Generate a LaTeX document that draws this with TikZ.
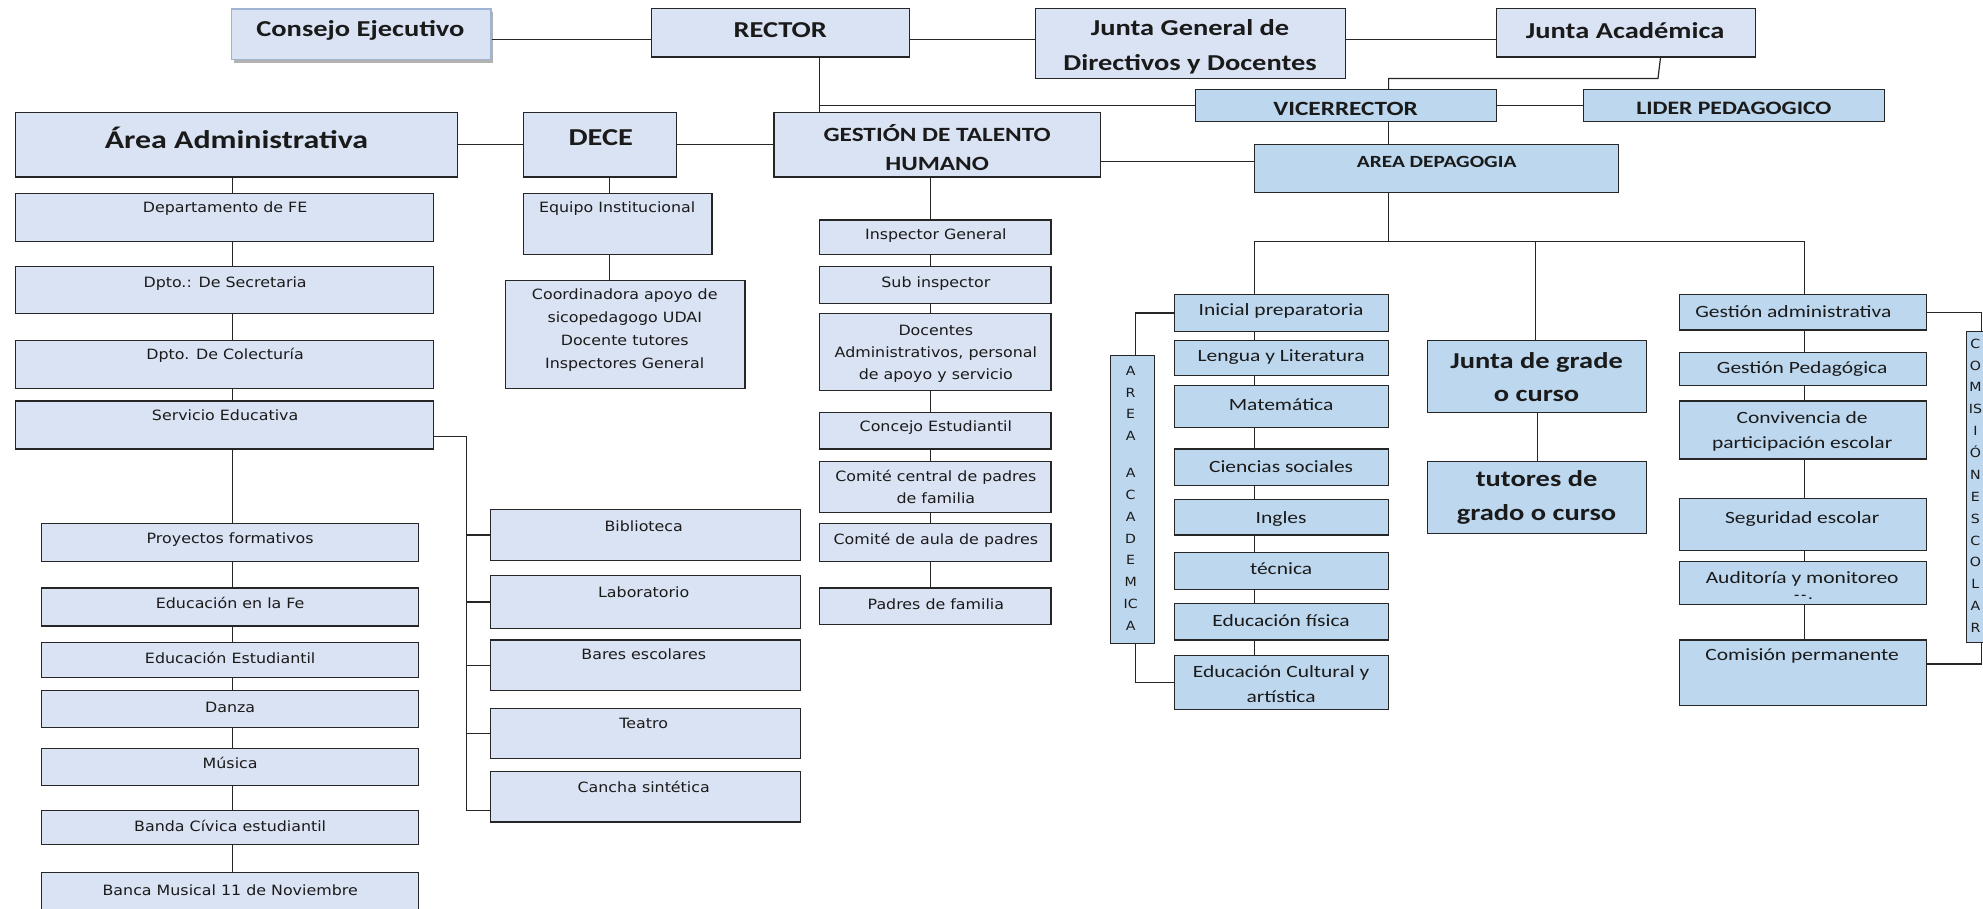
\documentclass[tikz,border=0pt]{standalone}
\usepackage{fontspec}
\newfontfamily\calfam[FakeStretch=1.25]{Carlito}
\newfontfamily\verfam[FakeStretch=1.12]{DejaVu Sans}
\usetikzlibrary{fit,shadows}
\definecolor{lboxc}{HTML}{DAE3F3}
\definecolor{bboxc}{HTML}{BDD7EE}
\definecolor{edgec}{HTML}{262626}
\definecolor{txtc}{HTML}{1A1A1A}
\definecolor{cedgec}{HTML}{9FB4D3}
\newcommand{\mkbox}[6]{\node[#6, fit={(#2,#3) (#4,#5)}] (#1) {};}
\tikzset{
  lb/.style={rectangle, draw=edgec, line width=0.95pt, fill=lboxc, inner sep=0pt},
  bb/.style={rectangle, draw=edgec, line width=0.95pt, fill=bboxc, inner sep=0pt},
  sb/.style={rectangle, draw=cedgec, line width=1.3pt, fill=lboxc, inner sep=0pt,
     drop shadow={shadow xshift=2pt, shadow yshift=-2.5pt, fill=black!50, opacity=0.6}},
  conn/.style={draw=edgec, line width=0.95pt},
  hd/.style={font=\calfam\bfseries\fontsize{18}{26}\selectfont, text=txtc, inner sep=0pt, align=center},
  sm/.style={font=\verfam\fontsize{11.2}{18}\selectfont, text=txtc, inner sep=0pt, align=center},
  cs/.style={font=\calfam\fontsize{13.6}{20}\selectfont, text=txtc, inner sep=0pt, align=center},
  vt/.style={font=\verfam\fontsize{10}{17.3}\selectfont, text=txtc, inner sep=0pt, align=center},
}
\begin{document}
\begin{tikzpicture}[x=1pt,y=-1pt]
\useasboundingbox (0,0) rectangle (1568,718);
\clip (0,0) rectangle (1568,718);
\fill[white] (0,0) rectangle (1568,718);

% ---------- top row ----------
\mkbox{cons}{183}{7}{388}{47}{sb}
\node[hd] (const) at (285,24) {Consejo Ejecutivo};
\mkbox{rector}{515}{7}{719}{45}{lb}
\node[hd] (rectort) at (617,24) {RECTOR};
\mkbox{jgen}{819}{7}{1064}{62}{lb}
\node[hd, font=\calfam\bfseries\fontsize{18}{27}\selectfont] (jgent) at (941,37) {Junta General de\\Directivos y Docentes};
\mkbox{jacad}{1183}{7}{1388}{45}{lb}
\node[hd] (jacadt) at (1285,24) {Junta Académica};

\mkbox{vice}{945}{71}{1183}{96}{bb}
\node[hd, font=\calfam\bfseries\fontsize{16}{20}\selectfont] (vicet) at (1064,86) {VICERRECTOR};
\mkbox{lider}{1252}{71}{1490}{96}{bb}
\node[hd, font=\calfam\bfseries\fontsize{15}{20}\selectfont] (lidert) at (1371,86) {LIDER PEDAGOGICO};
\mkbox{areap}{992}{114}{1280}{152}{bb}
\node[hd, font=\calfam\bfseries\fontsize{13.5}{18}\selectfont] (areapt) at (1136,128) {AREA DEPAGOGIA};

\mkbox{aadm}{12}{89}{362}{140}{lb}
\node[hd, font=\calfam\bfseries\fontsize{20.2}{24}\selectfont] (aadmt) at (187,109) {Área Administrativa};
\mkbox{dece}{414}{89}{535}{140}{lb}
\node[hd, font=\calfam\bfseries\fontsize{19.2}{24}\selectfont] (decet) at (475,109) {DECE};
\mkbox{gth}{612}{89}{870}{140}{lb}
\node[hd, font=\calfam\bfseries\fontsize{16}{23}\selectfont] (gtht) at (741,117) {GESTIÓN DE TALENTO\\HUMANO};

% ---------- left column ----------
\mkbox{dep}{12}{153}{343}{191}{lb}
\node[sm] (dept) at (178,165) {Departamento de FE};
\mkbox{sec}{12}{211}{343}{248}{lb}
\node[sm] (sect) at (178,224) {Dpto.: De Secretaria};
\mkbox{col}{12}{269}{343}{307}{lb}
\node[sm] (colt) at (178,281) {Dpto. De Colecturía};
\mkbox{serv}{12}{317}{343}{355}{lb}
\node[sm] (servt) at (178,328) {Servicio Educativa};

\mkbox{proy}{33}{414}{331}{444}{lb}
\node[sm] (proyt) at (182,427) {Proyectos formativos};
\mkbox{edfe}{33}{465}{331}{495}{lb}
\node[sm] (edfet) at (182,477) {Educación en la Fe};
\mkbox{edest}{33}{508}{331}{536}{lb}
\node[sm] (edestt) at (182,520) {Educación Estudiantil};
\mkbox{danza}{33}{546}{331}{575}{lb}
\node[sm] (danzat) at (182,559) {Danza};
\mkbox{musica}{33}{592}{331}{621}{lb}
\node[sm] (musicat) at (182,603) {Música};
\mkbox{banda}{33}{641}{331}{668}{lb}
\node[sm] (bandat) at (182,653) {Banda Cívica estudiantil};
\mkbox{banca}{33}{690}{331}{724}{lb}
\node[sm] (bancat) at (182,704) {Banca Musical 11 de Noviembre};

\mkbox{bib}{388}{403}{633}{443}{lb}
\node[sm] (bibt) at (509,416) {Biblioteca};
\mkbox{lab}{388}{455}{633}{497}{lb}
\node[sm] (labt) at (509,468) {Laboratorio};
\mkbox{bares}{388}{506}{633}{546}{lb}
\node[sm] (barest) at (509,517) {Bares escolares};
\mkbox{teatro}{388}{560}{633}{600}{lb}
\node[sm] (teatrot) at (509,572) {Teatro};
\mkbox{cancha}{388}{610}{633}{650}{lb}
\node[sm] (canchat) at (509,622) {Cancha sintética};

% ---------- DECE column ----------
\mkbox{equipo}{414}{153}{563}{201}{lb}
\node[sm] (equipot) at (488,165) {Equipo Institucional};
\mkbox{coord}{400}{222}{589}{307}{lb}
\node[sm, font=\verfam\fontsize{11.2}{18.3}\selectfont] (coordt) at (494,261) {Coordinadora apoyo de\\sicopedagogo UDAI\\Docente tutores\\Inspectores General};

% ---------- GTH column ----------
\mkbox{insp}{648}{174}{831}{201}{lb}
\node[sm] (inspt) at (740,186) {Inspector General};
\mkbox{sub}{648}{211}{831}{240}{lb}
\node[sm] (subt) at (740,224) {Sub inspector};
\mkbox{doc}{648}{248}{831}{309}{lb}
\node[sm, font=\verfam\fontsize{11.2}{17.5}\selectfont] (doct) at (740,280) {Docentes\\Administrativos, personal\\de apoyo y servicio};
\mkbox{conc}{648}{326}{831}{355}{lb}
\node[sm] (conct) at (740,338) {Concejo Estudiantil};
\mkbox{ccp}{648}{365}{831}{405}{lb}
\node[sm] (ccpt) at (740,385) {Comité central de padres\\de familia};
\mkbox{cap}{648}{414}{831}{444}{lb}
\node[sm] (capt) at (740,427) {Comité de aula de padres};
\mkbox{pad}{648}{465}{831}{494}{lb}
\node[sm] (padt) at (740,478) {Padres de familia};

% ---------- pedagogy ----------
\mkbox{ini}{929}{233}{1098}{262}{bb}
\node[cs] (init) at (1013,246) {Inicial preparatoria};
\mkbox{leng}{929}{269}{1098}{297}{bb}
\node[cs] (lengt) at (1013,282) {Lengua y Literatura};
\mkbox{mate}{929}{305}{1098}{338}{bb}
\node[cs] (matet) at (1013,320) {Matemática};
\mkbox{cien}{929}{355}{1098}{384}{bb}
\node[cs] (cient) at (1013,369) {Ciencias sociales};
\mkbox{ingl}{929}{395}{1098}{423}{bb}
\node[cs] (inglt) at (1013,410) {Ingles};
\mkbox{tec}{929}{437}{1098}{466}{bb}
\node[cs] (tect) at (1013,450) {técnica};
\mkbox{edf}{929}{477}{1098}{506}{bb}
\node[cs] (edft) at (1013,491) {Educación física};
\mkbox{edc}{929}{518}{1098}{561}{bb}
\node[cs] (edct) at (1013,541) {Educación Cultural y\\artística};

\mkbox{acad}{878}{281}{913}{509}{bb}
\node[vt] (acadt) at (894,394) {A\\R\\E\\A\\[11.7pt]A\\C\\A\\D\\E\\M\\IC\\A};

\mkbox{jg}{1129}{269}{1302}{326}{bb}
\node[hd, font=\calfam\bfseries\fontsize{18}{26}\selectfont] (jgt) at (1215,298) {Junta de grade\\o curso};
\mkbox{tut}{1129}{365}{1302}{422}{bb}
\node[hd, font=\calfam\bfseries\fontsize{18}{27}\selectfont] (tutt) at (1215,393) {tutores de\\grado o curso};

\mkbox{gadm}{1328}{233}{1523}{261}{bb}
\node[cs] (gadmt) at (1418,246) {Gestión administrativa};
\mkbox{gped}{1328}{279}{1523}{305}{bb}
\node[cs] (gpedt) at (1425,292) {Gestión Pedagógica};
\mkbox{conv}{1328}{317}{1523}{363}{bb}
\node[cs] (convt) at (1425,341) {Convivencia de\\participación escolar};
\mkbox{seg}{1328}{394}{1523}{435}{bb}
\node[cs] (segt) at (1425,410) {Seguridad escolar};
\mkbox{aud}{1328}{444}{1523}{478}{bb}
\node[cs] (audt) at (1425,458) {Auditoría y monitoreo};
\node[cs, font=\calfam\bfseries\fontsize{10}{12}\selectfont] (audt2) at (1426,472) {-\,-\,.};
\mkbox{comp}{1328}{506}{1523}{558}{bb}
\node[cs] (compt) at (1425,519) {Comisión permanente};

\mkbox{comesc}{1555}{262}{1585}{508}{bb}
\node[vt] (comesct) at (1562,384) {C\\O\\M\\IS\\I\\Ó\\N\\E\\S\\C\\O\\L\\A\\R};

% ---------- connectors ----------
\coordinate (Y31) at (0,31);
\coordinate (Y128) at (0,128);
\coordinate (Y191) at (0,191);
\coordinate (Y345) at (0,345);
\coordinate (Y641) at (0,641);
\coordinate (Y525) at (0,525);
\coordinate (X184) at (184,0);
\coordinate (X369) at (369,0);
\coordinate (X482) at (482,0);
\coordinate (X648) at (648,0);
\coordinate (X736) at (736,0);
\coordinate (X898) at (898,0);
\coordinate (X992) at (992,0);
\coordinate (X1098) at (1098,0);
\coordinate (X1214) at (1214,0);
\coordinate (X1216) at (1216,0);
\coordinate (X1313) at (1313,0);
\coordinate (X1427) at (1427,0);
\coordinate (X1567) at (1567,0);
\coordinate (ja2) at (1311,62);

\draw[conn] (cons.east |- Y31) -- (rector.west |- Y31);
\draw[conn] (rector.east |- Y31) -- (jgen.west |- Y31);
\draw[conn] (jgen.east |- Y31) -- (jacad.west |- Y31);
\draw[conn] (rector.south -| X648) -- (gth.north -| X648);
\draw[conn] (X648 |- vice.west) -- (vice.west);
\draw[conn] (jacad.south -| X1313) -- (ja2) -| (vice.north -| X1098);
\draw[conn] (vice.east) -- (lider.west);
\draw[conn] (vice.south -| X1098) -- (areap.north -| X1098);
\draw[conn] (gth.east |- Y128) -- (areap.west |- Y128);
\draw[conn] (aadm.east) -- (dece.west);
\draw[conn] (dece.east) -- (gth.west |- dece.east);

\draw[conn] (aadm.south -| X184) -- (dep.north -| X184);
\foreach \a/\b in {dep/sec, sec/col, col/serv, serv/proy, proy/edfe, edfe/edest, edest/danza, danza/musica, musica/banda, banda/banca}
  \draw[conn] (\a.south -| X184) -- (\b.north -| X184);
\draw[conn] (serv.east |- Y345) -| (X369 |- Y641) -- (cancha.west |- Y641);
\foreach \a in {bib, lab, bares, teatro}
  \draw[conn] (X369 |- \a.west) -- (\a.west);

\draw[conn] (dece.south -| X482) -- (equipo.north -| X482);
\draw[conn] (equipo.south -| X482) -- (coord.north -| X482);

\draw[conn] (gth.south -| X736) -- (insp.north -| X736);
\foreach \a/\b in {insp/sub, sub/doc, doc/conc, conc/ccp, ccp/cap, cap/pad}
  \draw[conn] (\a.south -| X736) -- (\b.north -| X736);

\draw[conn] (areap.south -| X1098) -- (X1098 |- Y191);
\draw[conn] (ini.north -| X992) |- (X1427 |- Y191) -- (gadm.north -| X1427);
\draw[conn] (X1214 |- Y191) -- (jg.north -| X1214);
\foreach \a/\b in {ini/leng, leng/mate, mate/cien, cien/ingl, ingl/tec, tec/edf, edf/edc}
  \draw[conn] (\a.south -| X992) -- (\b.north -| X992);
\draw[conn] (ini.west) -| (acad.north -| X898);
\draw[conn] (acad.south -| X898) |- (edc.west);
\draw[conn] (jg.south -| X1216) -- (tut.north -| X1216);
\foreach \a/\b in {gadm/gped, gped/conv, conv/seg, seg/aud, aud/comp}
  \draw[conn] (\a.south -| X1427) -- (\b.north -| X1427);
\draw[conn] (gadm.east) -| (comesc.north -| X1567);
\draw[conn] (comesc.south -| X1567) |- (comp.east |- Y525);
\end{tikzpicture}
\end{document}
